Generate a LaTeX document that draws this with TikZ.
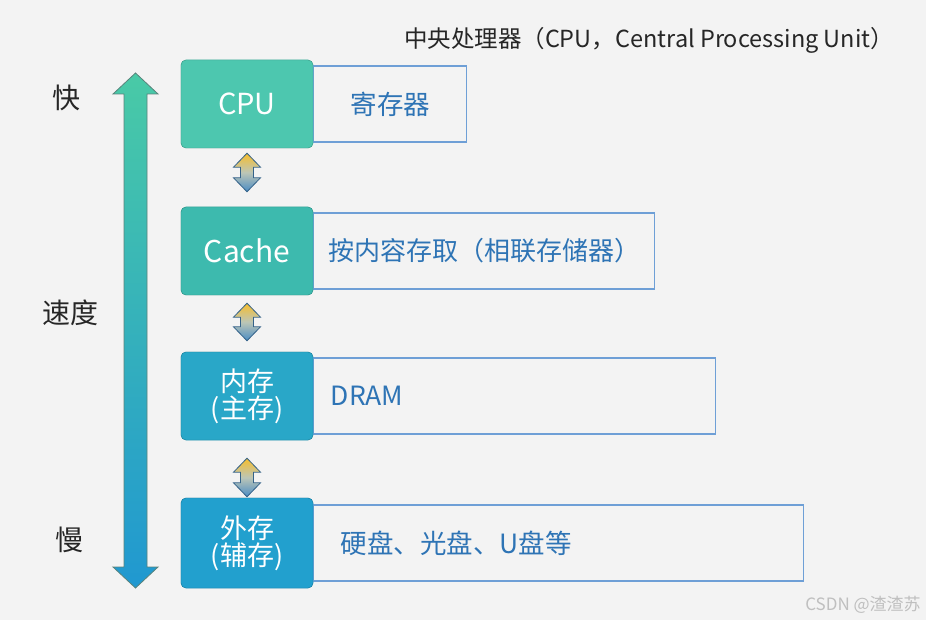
\documentclass[tikz,border=0pt]{standalone}
\usepackage{fontspec}
\setmainfont{Noto Sans CJK SC}
\usetikzlibrary{positioning, calc}
\definecolor{bgc}{HTML}{F3F3F3}
\definecolor{txtblue}{HTML}{2E74B5}
\definecolor{lineblue}{HTML}{6E9FD6}
\definecolor{cpuc}{HTML}{4DC7AF}
\definecolor{cachec}{HTML}{3DBAAE}
\definecolor{memc}{HTML}{29A7C8}
\definecolor{extc}{HTML}{22A0CE}
\definecolor{swaptop}{HTML}{F7BE2C}
\definecolor{swapbot}{HTML}{4A8CC4}
\newcommand{\fsz}[1]{\fontsize{#1}{#1}\selectfont}
% double arrow: style, top point, bottom point, half shaft, half head, head length
\newcommand{\dblarrow}[6]{%
  \shade[#1] let \p1=(#2), \p2=(#3) in
    (\x1,\y1) -- (\x1+#5pt,\y1-#6pt) -- (\x1+#4pt,\y1-#6pt) -- (\x1+#4pt,\y2+#6pt)
    -- (\x1+#5pt,\y2+#6pt) -- (\x1,\y2) -- (\x1-#5pt,\y2+#6pt) -- (\x1-#4pt,\y2+#6pt)
    -- (\x1-#4pt,\y1-#6pt) -- (\x1-#5pt,\y1-#6pt) -- cycle;}

\begin{document}
\begin{tikzpicture}[x=1pt, y=-1pt,
  lbox/.style={draw=#1!80!black, fill=#1, rounded corners=5pt, minimum width=132pt,
    minimum height=88pt, align=center, text=white, inner sep=0pt, font=\fsz{27}},
  rbox/.style={draw=lineblue, line width=1.2pt, fill=bgc, minimum height=76pt,
    text=txtblue, font=\fsz{26.5}, inner ysep=0pt},
  speed/.style={top color=cpuc!95!green, bottom color=extc!95!blue, draw=cpuc!45!black!75, line width=0.8pt},
  swap/.style={top color=swaptop, bottom color=swapbot, middle color=swaptop!40!swapbot!60!white, draw=swapbot!70!black, line width=0.8pt},
  side/.style={font=\fsz{28}, text=black!85}
]
\fill[bgc] (0,0) rectangle (926,620);
\useasboundingbox (0,0) rectangle (926,620);

\node[font=\fsz{23.5}, text=black!85] (title) at (649,40) {中央处理器（CPU，Central Processing Unit）};

% left column
\node[lbox=cpuc] (cpu) at (247,104) {};
\node[lbox=cachec] (cache) at (247,251) {};
\node[lbox=memc] (mem) at (247,396) {};
\node[lbox=extc, minimum height=90pt] (ext) at (247,543) {};

% right boxes
\node[rbox, right=0pt of cpu, minimum width=153pt] (reg) {寄存器};
\node[rbox, right=0pt of cache, minimum width=341pt, inner xsep=0pt, font=\fsz{26}] (assoc) {按内容存取（相联存储器）};
\node[rbox, right=0pt of mem, minimum width=402pt, text width=368pt, inner xsep=17pt, align=left] (dram) {DRAM};
\node[rbox, right=0pt of ext, minimum width=490pt, text width=436pt, inner xsep=27pt, align=left] (disk) {硬盘、光盘、U盘等};

% left boxes on top
\node[lbox=cpuc, font=\fsz{29}] at (cpu) {CPU};
\node[lbox=cachec, font=\fsz{30}] at (cache) {Cache};
\node[lbox=memc] at (mem) {内存\\(主存)};
\node[lbox=extc, minimum height=90pt] at (ext) {外存\\(辅存)};

% arrows between levels
\dblarrow{swap}{[yshift=-5pt]cpu.south}{[yshift=15pt]cache.north}{6.5}{13.5}{14}
\dblarrow{swap}{[yshift=-8pt]cache.south}{[yshift=11pt]mem.north}{6.5}{13.5}{14}
\dblarrow{swap}{[yshift=-18pt]mem.south}{[yshift=1pt]ext.north}{6.5}{13.5}{14}

% speed axis
\coordinate (fast) at (135.5,73);
\coordinate (slow) at (135.5,588);
\dblarrow{speed}{fast}{slow}{11.5}{22.5}{21}
\node[side] (fastlab) at (66,98) {快};
\node[side] (speedlab) at (70,313) {速度};
\node[side] (slowlab) at (69,540) {慢};

\node[font=\fsz{17}, text=black!25] (mark) at (863,605) {CSDN @渣渣苏};
\end{tikzpicture}
\end{document}
